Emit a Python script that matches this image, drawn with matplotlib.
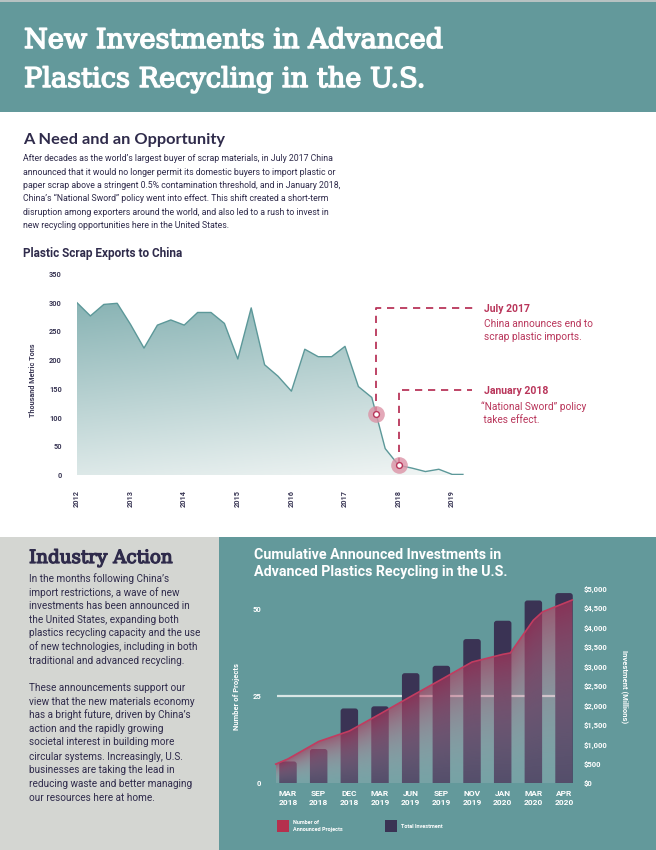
import numpy as np
import matplotlib
matplotlib.use("Agg")
import matplotlib.pyplot as plt
import matplotlib.patheffects as pe
from matplotlib.patches import Rectangle, Polygon, FancyBboxPatch
from matplotlib.colors import to_rgba

# ---------------- data ----------------
# plastic scrap exports to China, thousand metric tons (quarterly)
export_year = [2012.0, 2012.25, 2012.5, 2012.75, 2013.0, 2013.25, 2013.5, 2013.75,
               2014.0, 2014.25, 2014.5, 2014.75, 2015.0, 2015.25, 2015.5, 2015.75,
               2016.0, 2016.25, 2016.5, 2016.75, 2017.0, 2017.25, 2017.5, 2017.75,
               2018.0, 2018.25, 2018.5, 2018.75, 2019.0, 2019.2]
export_kt = [300, 277, 297, 299, 262, 221, 261, 270,
             261, 283, 283, 264, 202, 291, 192, 172,
             146, 219, 206, 206, 224, 154, 135, 46,
             17, 12, 6, 10, 1, 1]
year_ticks = [2012, 2013, 2014, 2015, 2016, 2017, 2018, 2019]
event_year = [2017.58, 2018.0]

# cumulative announced investments
periods = ['MAR\n2018', 'SEP\n2018', 'DEC\n2018', 'MAR\n2019', 'JUN\n2019',
           'SEP\n2019', 'NOV\n2019', 'JAN\n2020', 'MAR\n2020', 'APR\n2020']
investment_musd = [560, 880, 1920, 1975, 2825, 3015, 3700, 4170, 4690, 4880]
project_pos = [-0.4, 0, 1, 2, 3, 4, 5, 6, 7, 7.25, 8, 8.3, 9.27]
project_count = [5.5, 7.0, 12.0, 15.0, 19.9, 24.9, 29.8, 34.8, 37.0, 37.4, 46.8, 49.2, 52.6]
invest_ticks = [0, 500, 1000, 1500, 2000, 2500, 3000, 3500, 4000, 4500, 5000]
project_ticks = [0, 25, 50]

# ---------------- style ----------------
W, H = 656, 850
TEAL = '#63999b'
GRAY = '#d4d6d2'
NAVY = '#2f2b4b'
RED = '#b9365b'
BAR = '#3a3354'
NARROW = ['Liberation Sans Narrow', 'Roboto', 'DejaVu Sans']
SLAB = ['DejaVu Serif']
ROUND = ['Lato', 'DejaVu Sans']

fig = plt.figure(figsize=(W / 100, H / 100), dpi=100)
renderer = fig.canvas.get_renderer()

bg = fig.add_axes([0, 0, 1, 1])
bg.set_xlim(0, W)
bg.set_ylim(H, 0)
bg.axis('off')
bg.add_patch(Rectangle((0, 0), W, 112, color=TEAL, lw=0))
bg.add_patch(Rectangle((0, 0), W, 1.5, color='#b7c2c2', lw=0))
bg.add_patch(Rectangle((0, 537), 219, H - 537, color=GRAY, lw=0))
bg.add_patch(Rectangle((219, 537), W - 219, H - 537, color=TEAL, lw=0))


def fit_lines(lines, x, ys, width, **kw):
    # place lines at fixed y, scale font so the widest line gets the target width
    ts = [bg.text(x, y, s, fontsize=10, **kw) for s, y in zip(lines, ys)]
    wmax = max(t.get_window_extent(renderer).width for t in ts if t.get_text())
    for t in ts:
        t.set_fontsize(10 * width / wmax)
    return ts


def px_axes(x0, y0, x1, y1):
    a = fig.add_axes([x0 / W, 1 - y1 / H, (x1 - x0) / W, (y1 - y0) / H])
    a.set_facecolor('none')
    for s in a.spines.values():
        s.set_visible(False)
    return a


# ---------------- header + text ----------------
# medium weight slab: regular face thickened with a thin stroke
for t in fit_lines(['New Investments in Advanced', 'Plastics Recycling in the U.S.'], 24, [48, 87], 420,
                   color='white', family=SLAB, va='baseline'):
    t.set_path_effects([pe.withStroke(linewidth=1.1, foreground='white')])
fit_lines(['A Need and an Opportunity'], 23, [144], 202, color=NAVY, family=ROUND,
          weight='bold', va='baseline')

para1 = ["After decades as the world\u2019s largest buyer of scrap materials, in July 2017 China",
         "announced that it would no longer permit its domestic buyers to import plastic or",
         "paper scrap above a stringent 0.5% contamination threshold, and in January 2018,",
         "China\u2019s \u201cNational Sword\u201d policy went into effect. This shift created a short-term",
         "disruption among exporters around the world, and also led to a rush to invest in",
         "new recycling opportunities here in the United States."]
fit_lines(para1, 23, [158, 172, 185, 198, 212, 225], 318, color=NAVY, family=NARROW, va='center')

fit_lines(['Plastic Scrap Exports to China'], 23, [257], 160, color=NAVY, family=NARROW,
          weight='bold', va='baseline')

for t in fit_lines(['Industry Action'], 29, [563], 144, color=NAVY, family=SLAB, va='baseline'):
    t.set_path_effects([pe.withStroke(linewidth=0.9, foreground=NAVY)])
para2 = ["In the months following China\u2019s",
         "import restrictions, a wave of new",
         "investments has been announced in",
         "the United States, expanding both",
         "plastics recycling capacity and the use",
         "of new technologies, including in both",
         "traditional and advanced recycling.",
         "These announcements support our",
         "view that the new materials economy",
         "has a bright future, driven by China\u2019s",
         "action and the rapidly growing",
         "societal interest in building more",
         "circular systems. Increasingly, U.S.",
         "businesses are taking the lead in",
         "reducing waste and better managing",
         "our resources here at home."]
fit_lines(para2, 29, [579, 593, 606, 620, 633, 647, 661, 688, 702, 715, 729, 742, 757, 770, 784, 798],
          172, color=NAVY, family=NARROW, va='center')

# ---------------- line chart: exports to China ----------------
ax1 = px_axes(77, 274, 479, 475)
xs = np.linspace(export_year[0], export_year[-1], 400)
ys = np.linspace(0, 310, 300)
X, Y = np.meshgrid(xs, ys)
shade = np.clip(0.8 * Y / 300 + 0.2 * (export_year[-1] - X) / 7.2, 0, 1)
c_lo, c_hi = np.array(to_rgba('#f2f6f5')), np.array(to_rgba('#88b3b4'))
img = c_lo + (c_hi - c_lo) * shade[..., None]
im = ax1.imshow(img, extent=(xs[0], xs[-1], 0, 310), origin='lower', aspect='auto', zorder=1)
area = Polygon(list(zip([export_year[0]] + export_year + [export_year[-1]], [0] + export_kt + [0])),
               closed=True, fc='none', ec='none')
ax1.add_patch(area)
im.set_clip_path(area)
ax1.plot(export_year, export_kt, color='#5c9899', lw=1.0, zorder=2)
ax1.set_xlim(2012, 2019.5)
ax1.set_ylim(0, 350)
ax1.set_yticks(range(0, 351, 50))
ax1.set_xticks(year_ticks)
ax1.tick_params(length=0, colors='#3b3856', labelsize=5.3)
ax1.tick_params(axis='y', pad=11)
ax1.tick_params(axis='x', pad=11, labelrotation=90)
for lab in ax1.get_xticklabels() + ax1.get_yticklabels():
    lab.set_fontfamily(NARROW)
    lab.set_fontweight('bold')
bg.text(33, 380, 'Thousand Metric Tons', rotation=90, ha='center', va='center',
        fontsize=5.2, color='#3b3856', family=NARROW, weight='bold')

# event markers and callouts
ev_val = np.interp(event_year, export_year, export_kt)
callout_top = [291, 148]
callout_end = [2019.43, 2019.37]
for xe, ve, yt, xend in zip(event_year, ev_val, callout_top, callout_end):
    ax1.plot([xe, xe, xend], [ve, yt, yt], color=RED, lw=1.3, ls=(0, (4, 3.2)),
             clip_on=False, zorder=3)
    ax1.plot(xe, ve, 'o', ms=12, color='#dc93a6', alpha=0.8, mec='none', zorder=4, clip_on=False)
    ax1.plot(xe, ve, 'o', ms=4.2, mfc='white', mec=RED, mew=1.0, zorder=5, clip_on=False)

fit_lines(['July 2017'], 484, [312], 46, color=RED, family=NARROW, weight='bold', va='baseline')
fit_lines(['China announces end to', 'scrap plastic imports.'], 484, [327, 340], 109,
          color=RED, family=NARROW, va='baseline')
fit_lines(['January 2018'], 484, [394], 65, color=RED, family=NARROW, weight='bold', va='baseline')
fit_lines(['\u201cNational Sword\u201d policy', ' takes effect.'], 481, [410, 423], 105,
          color=RED, family=NARROW, va='baseline')

# ---------------- bar chart: cumulative investments ----------------
fit_lines(['Cumulative Announced Investments in', 'Advanced Plastics Recycling in the U.S.'],
          254, [559, 576], 254, color='white', family=NARROW, weight='bold', va='baseline')

box = (269.6, 585, 576.3, 783.3)
ax_grid = px_axes(*box)
ax_inv = px_axes(*box)
ax_proj = px_axes(*box)
xlim = (-0.6, 9.4)
proj_max = 56.9
inv_max = 5087

ax_grid.hlines(25, -0.36, 8.7, color='#d9e6e5', lw=1.6, zorder=1)
ax_grid.set_xlim(*xlim)
ax_grid.set_ylim(0, proj_max)
ax_grid.set_xticks([])
ax_grid.set_yticks(project_ticks)
ax_grid.tick_params(length=0, colors='white', labelsize=5.5, pad=6)
for lab in ax_grid.get_yticklabels():
    lab.set_fontfamily(NARROW)
    lab.set_fontweight('bold')

pos = np.arange(len(periods))
bars = ax_inv.bar(pos, investment_musd, width=0.57, color=BAR, zorder=2)
# round the bar tops: aspect converts x-units to $ so corners stay circular
px_x = (box[2] - box[0]) / (xlim[1] - xlim[0])
px_y = (box[3] - box[1]) / inv_max
for r in bars:
    x0, w, h = r.get_x(), r.get_width(), r.get_height()
    r.set_visible(False)
    ax_inv.add_patch(FancyBboxPatch((x0, -300), w, h + 300,
                                    boxstyle='round,pad=0,rounding_size=0.09',
                                    mutation_aspect=px_x / px_y, fc=BAR, ec='none', zorder=2))
ax_inv.set_xlim(*xlim)
ax_inv.set_ylim(0, inv_max)
ax_inv.yaxis.tick_right()
ax_inv.set_yticks(invest_ticks)
ax_inv.set_yticklabels(['${:,}'.format(v) for v in invest_ticks])
ax_inv.set_xticks(pos)
ax_inv.set_xticklabels(periods, linespacing=1.35)
ax_inv.tick_params(length=0, colors='white', labelsize=6)
ax_inv.tick_params(axis='x', pad=5)
ax_inv.tick_params(axis='y', pad=5, labelsize=5.5)
for lab in ax_inv.get_xticklabels() + ax_inv.get_yticklabels():
    lab.set_fontfamily(NARROW)
    lab.set_fontweight('bold')

gx = np.linspace(project_pos[0], project_pos[-1], 500)
gy = np.linspace(0, 54, 300)
GX, GY = np.meshgrid(gx, gy)
frac = np.clip(GY / np.interp(GX, project_pos, project_count), 0, 1) ** 1.2
r_lo, r_hi = np.array(to_rgba('#d3cfd6', 0.18)), np.array(to_rgba('#b8345a', 0.62))
gimg = r_lo + (r_hi - r_lo) * frac[..., None]
gim = ax_proj.imshow(gimg, extent=(gx[0], gx[-1], 0, 54), origin='lower', aspect='auto', zorder=1)
parea = Polygon(list(zip([project_pos[0]] + project_pos + [project_pos[-1]], [0] + project_count + [0])),
                closed=True, fc='none', ec='none')
ax_proj.add_patch(parea)
gim.set_clip_path(parea)
ax_proj.plot(project_pos, project_count, color='#c23c60', lw=1.2, zorder=2)
ax_proj.set_xlim(*xlim)
ax_proj.set_ylim(0, proj_max)
ax_proj.set_xticks([])
ax_proj.set_yticks([])

bg.text(237, 697, 'Number of Projects', rotation=90, ha='center', va='center',
        fontsize=5.5, color='white', family=NARROW, weight='bold')
bg.text(625, 687, 'Investment (Millions)', rotation=270, ha='center', va='center',
        fontsize=5.5, color='white', family=NARROW, weight='bold')

# legend
bg.add_patch(Rectangle((277, 820), 11.5, 12, color='#b5304e', lw=0))
bg.text(293, 826, 'Number of\nAnnounced Projects', ha='left', va='center', fontsize=4,
        color='white', family=NARROW, weight='bold', linespacing=1.5)
bg.add_patch(Rectangle((385, 820), 11.5, 12, color=BAR, lw=0))
bg.text(401, 826, 'Total Investment', ha='left', va='center', fontsize=4,
        color='white', family=NARROW, weight='bold')

fig.savefig('out.png', dpi=100)
